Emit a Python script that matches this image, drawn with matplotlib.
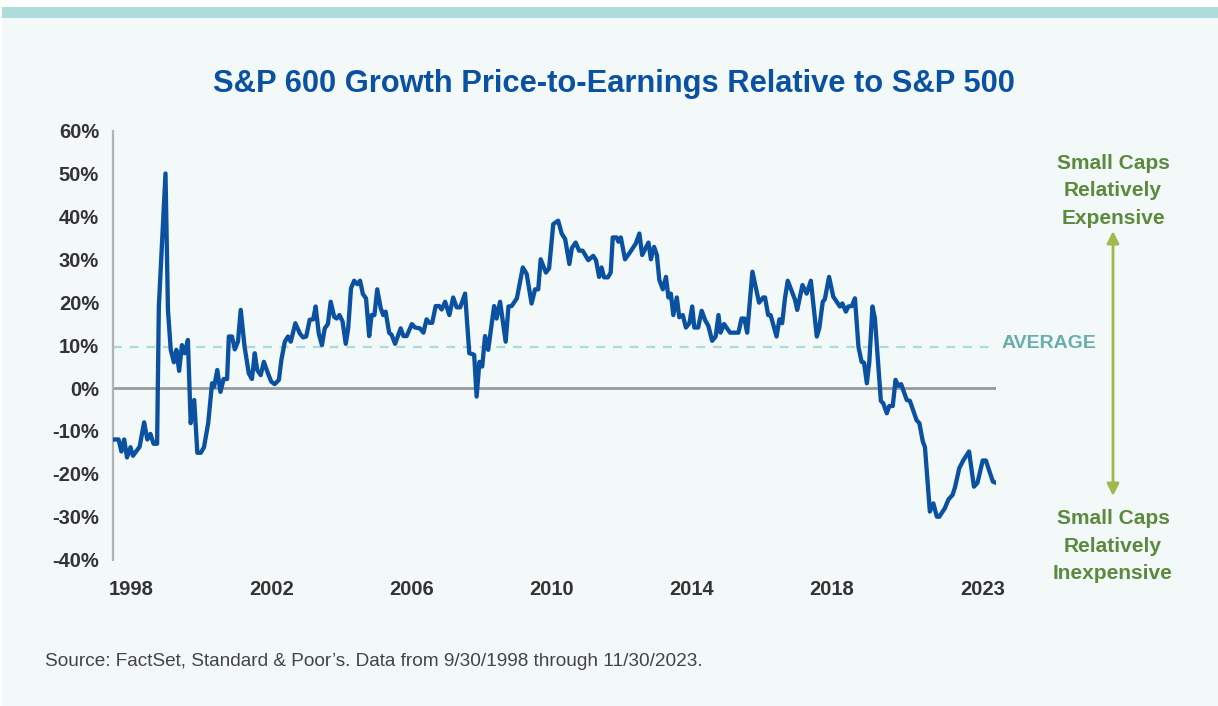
import matplotlib
matplotlib.use('Agg')
import matplotlib.pyplot as plt
from matplotlib.patches import Rectangle

# --- DATA ---
# decimal year, relative P/E (%)
years = [
    1998.75, 1998.88, 1998.96, 1999.04, 1999.12, 1999.22, 1999.29, 1999.48, 1999.61, 1999.70,
    1999.79, 1999.88, 1999.98, 2000.03, 2000.22, 2000.29, 2000.37, 2000.46, 2000.53, 2000.61,
    2000.69, 2000.77, 2000.86, 2000.94, 2001.04, 2001.13, 2001.23, 2001.32, 2001.44, 2001.55,
    2001.61, 2001.70, 2001.79, 2001.88, 2001.98, 2002.03, 2002.12, 2002.20, 2002.29, 2002.37,
    2002.48, 2002.60, 2002.69, 2002.77, 2002.84, 2002.94, 2003.03, 2003.13, 2003.24, 2003.34,
    2003.46, 2003.53, 2003.63, 2003.72, 2003.80, 2003.93, 2004.06, 2004.15, 2004.24, 2004.34,
    2004.44, 2004.51, 2004.60, 2004.69, 2004.77, 2004.86, 2004.94,
    2005.04, 2005.11, 2005.19, 2005.28, 2005.37, 2005.44, 2005.52, 2005.61, 2005.70, 2005.78,
    2005.86, 2005.95, 2006.04, 2006.11, 2006.19, 2006.27, 2006.37, 2006.44, 2006.51, 2006.61,
    2006.68, 2006.78, 2006.94, 2007.02, 2007.11, 2007.26, 2007.35, 2007.49, 2007.59, 2007.68,
    2007.76, 2007.84, 2007.94, 2008.04, 2008.11, 2008.21, 2008.33, 2008.44, 2008.54, 2008.64,
    2008.78, 2008.90, 2008.99, 2009.04, 2009.11, 2009.19, 2009.27, 2009.35, 2009.44, 2009.61,
    2009.68, 2009.78, 2009.94, 2010.02, 2010.11, 2010.26, 2010.43, 2010.54, 2010.68, 2010.78,
    2010.87, 2010.94, 2011.09, 2011.18, 2011.30,
    2011.44, 2011.54, 2011.64, 2011.76, 2011.83, 2011.94, 2012.04, 2012.14, 2012.30, 2012.44,
    2012.52, 2012.61, 2012.68, 2012.75, 2012.86, 2012.94, 2013.00, 2013.11, 2013.16, 2013.23,
    2013.35, 2013.49, 2013.66, 2013.76, 2013.84, 2013.94, 2014.02, 2014.09, 2014.18, 2014.26,
    2014.33, 2014.43, 2014.52, 2014.59, 2014.66, 2014.73, 2014.83, 2014.90, 2015.00, 2015.09,
    2015.19, 2015.27, 2015.33, 2015.44, 2015.54, 2015.64, 2015.73, 2015.84, 2015.94, 2016.02,
    2016.08, 2016.18, 2016.35, 2016.59, 2016.68, 2016.76, 2016.84, 2016.99, 2017.18, 2017.30,
    2017.35, 2017.44, 2017.51, 2017.68, 2017.76, 2017.84, 2017.92,
    2018.00, 2018.21, 2018.27, 2018.42, 2018.54, 2018.66, 2018.83, 2018.90, 2019.00, 2019.06,
    2019.18, 2019.30, 2019.40, 2019.49, 2019.56, 2019.66, 2019.73, 2019.83, 2019.92, 2020.02,
    2020.11, 2020.18, 2020.26, 2020.33, 2020.42, 2020.49, 2020.66, 2020.73, 2020.83, 2020.90,
    2021.00, 2021.08, 2021.16, 2021.24, 2021.40, 2021.49, 2021.68, 2021.76, 2021.86, 2021.92,
    2022.06, 2022.16, 2022.26, 2022.33, 2022.49, 2022.59, 2022.71, 2022.78, 2022.90, 2023.02,
    2023.18, 2023.32, 2023.42, 2023.57, 2023.66, 2023.86, 2023.92,
]
rel_pe = [
    -12.0, -12.0, -14.8, -12.0, -16.2, -13.8, -15.8, -13.7, -8.0, -12.0,
    -10.7, -13.0, -13.0, 19.0, 50.0, 18.2, 8.9, 6.0, 8.9, 4.0,
    10.0, 8.1, 11.2, -8.2, -2.8, -15.1, -15.1, -13.8, -8.2, 1.1,
    0.3, 4.2, -0.9, 2.1, 2.1, 12.0, 12.0, 9.0, 10.8, 18.2,
    9.6, 3.4, 2.1, 8.1, 4.2, 3.0, 6.1, 3.8, 1.5, 0.9,
    1.9, 6.5, 10.8, 12.0, 10.8, 15.1, 12.7, 11.8, 12.0, 15.9,
    16.0, 19.0, 12.7, 10.0, 13.9, 14.9, 20.1,
    16.6, 16.2, 17.0, 15.5, 10.3, 13.9, 23.2, 25.0, 24.2, 25.0,
    21.9, 20.9, 12.1, 17.0, 17.0, 23.0, 18.6, 17.0, 17.8, 12.9,
    12.4, 10.3, 13.9, 12.1, 12.1, 14.9, 14.1, 13.9, 12.9, 16.0,
    15.2, 15.2, 19.1, 19.1, 18.3, 20.1, 17.0, 21.1, 18.8, 18.8,
    22.0, 8.1, 7.9, 7.7, -2.0, 6.1, 5.0, 12.1, 8.9, 19.1,
    16.2, 20.1, 10.8, 19.0, 19.1, 20.9, 28.1, 26.6, 19.7, 23.0,
    23.0, 30.0, 26.9, 27.9, 38.2,
    39.0, 36.0, 34.7, 28.9, 32.6, 33.9, 32.0, 32.0, 29.8, 30.8,
    29.8, 25.9, 28.1, 25.8, 25.8, 26.9, 35.1, 35.1, 34.1, 35.1,
    30.0, 31.6, 33.7, 36.0, 31.0, 32.6, 33.9, 30.0, 32.9, 31.0,
    25.2, 23.0, 25.9, 21.1, 22.0, 17.0, 21.1, 16.5, 17.0, 14.1,
    15.1, 19.0, 14.1, 14.1, 18.0, 15.8, 14.5, 11.0, 12.0, 17.0,
    12.9, 14.9, 12.9, 12.9, 16.2, 16.2, 12.9, 27.1, 19.9, 21.1,
    21.1, 17.0, 17.0, 12.0, 16.0, 15.1, 20.9,
    25.0, 20.5, 18.2, 24.0, 22.0, 25.0, 12.0, 13.9, 20.1, 20.7,
    25.9, 21.3, 20.1, 19.0, 19.7, 17.8, 19.0, 19.1, 20.9, 9.6,
    6.1, 5.9, 1.1, 6.1, 19.0, 16.2, -3.0, -3.6, -5.9, -4.2,
    -4.2, 1.9, 0.5, 0.9, -2.8, -3.0, -7.5, -8.2, -12.5, -13.8,
    -28.8, -26.9, -30.0, -30.0, -28.0, -26.0, -24.9, -23.1, -18.7, -16.8,
    -14.8, -23.0, -22.1, -16.9, -16.9, -21.8, -22.0,
]
average_pe = 9.6

y_ticks = [-40, -30, -20, -10, 0, 10, 20, 30, 40, 50, 60]
# the source chart labels every 48th month, starting at month 6
x_tick_pos = [1999.25, 2003.25, 2007.25, 2011.25, 2015.25, 2019.25, 2023.58]
x_tick_labels = ['1998', '2002', '2006', '2010', '2014', '2018', '2023']

title = 'S&P 600 Growth Price-to-Earnings Relative to S&P 500'
source = 'Source: FactSet, Standard & Poor\u2019s. Data from 9/30/1998 through 11/30/2023.'

# --- STYLE ---
BG = '#f3f8f8'
BAR = '#acdcdb'
BLUE = '#0a52a1'
TXT = '#333333'
GREEN = '#5b8a3e'
ARROW = '#a3b84c'
TEAL_TXT = '#6aadad'
TEAL_DASH = '#aadcd9'
plt.rcParams['font.family'] = ['Liberation Sans Narrow', 'Liberation Sans', 'DejaVu Sans']

fig = plt.figure(figsize=(12.18, 7.06), dpi=100, facecolor='white')

# page background and top band
fig.patches.append(Rectangle((2 / 1218, 0), 1 - 2 / 1218, 1 - 18 / 706,
                             transform=fig.transFigure, facecolor=BG, edgecolor='none', zorder=-5))
fig.patches.append(Rectangle((2 / 1218, 1 - 18 / 706), 1 - 2 / 1218, 11 / 706,
                             transform=fig.transFigure, facecolor=BAR, edgecolor='none', zorder=-5))

ax = fig.add_axes([113 / 1218, 1 - 559.6 / 706, 883 / 1218, 429 / 706])
ax.set_facecolor('none')

ax.axhline(0, color='#9a9a9a', lw=2.0, zorder=2)
ax.axhline(average_pe, color=TEAL_DASH, lw=1.6, dashes=(4, 3.5), zorder=2)
ax.plot(years, rel_pe, color=BLUE, lw=3.1, solid_joinstyle='round', zorder=3)

ax.set_xlim(1998.72, 2023.95)
ax.set_ylim(-40, 60)
ax.set_yticks(y_ticks)
ax.set_yticklabels([f'{v}%' for v in y_ticks])
ax.set_xticks(x_tick_pos)
ax.set_xticklabels(x_tick_labels)
ax.tick_params(length=0, labelsize=14.5, labelcolor=TXT, pad=10)
ax.tick_params(axis='x', pad=15)
for lab in ax.get_xticklabels() + ax.get_yticklabels():
    lab.set_fontweight('bold')

for side in ['top', 'right', 'bottom']:
    ax.spines[side].set_visible(False)
ax.spines['left'].set_color('#b3b3b3')
ax.spines['left'].set_linewidth(1.6)

fig.text(614 / 1218, 1 - 84 / 706, title, ha='center', va='center',
         fontsize=22.2, fontweight='bold', color=BLUE)

# right-hand annotations
fig.text(1049 / 1218, 1 - 343 / 706, 'AVERAGE', ha='center', va='center',
         fontsize=14, fontweight='bold', color=TEAL_TXT)
fig.text(1113 / 1218, 1 - 191 / 706, 'Small Caps\nRelatively\nExpensive', ha='center', va='center',
         fontsize=15, fontweight='bold', color=GREEN, linespacing=1.55)
fig.text(1113 / 1218, 1 - 546 / 706, 'Small Caps\nRelatively\nInexpensive', ha='center', va='center',
         fontsize=15, fontweight='bold', color=GREEN, linespacing=1.55)
ax.annotate('', xy=(1113 / 1218, 1 - 231 / 706), xytext=(1113 / 1218, 1 - 496 / 706),
            xycoords='figure fraction', textcoords='figure fraction',
            arrowprops=dict(arrowstyle='<|-|>', color=ARROW, lw=2, mutation_scale=18,
                            shrinkA=0, shrinkB=0))

fig.text(45 / 1218, 1 - 662 / 706, source, ha='left', va='center',
         fontsize=13.7, color='#444444')

fig.savefig('out.png', dpi=100, facecolor=fig.get_facecolor())
